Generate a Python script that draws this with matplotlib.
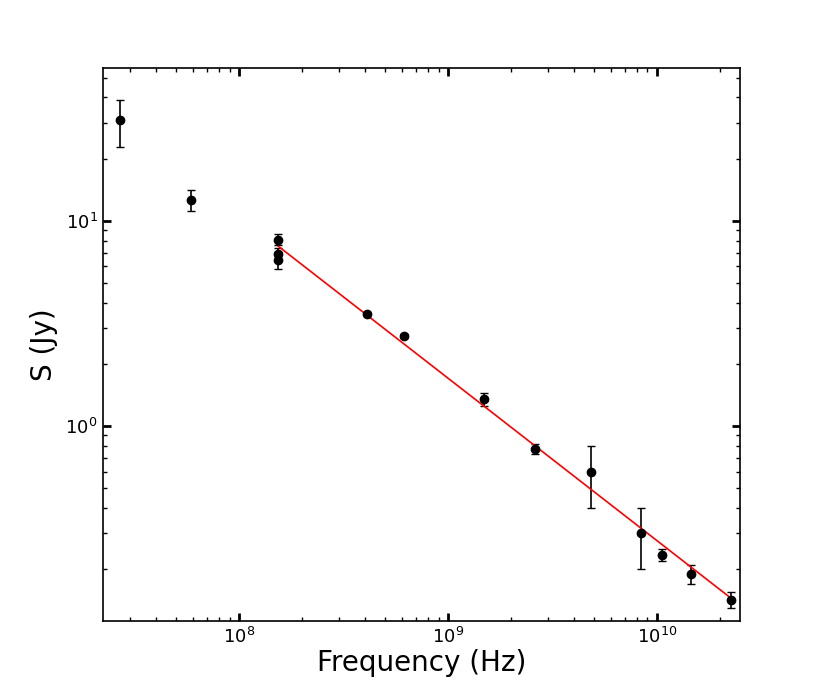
import numpy as np
import matplotlib
matplotlib.use('Agg')
import matplotlib.pyplot as plt

freq = [2.7e7, 5.9e7, 1.54e8, 1.54e8, 1.54e8, 4.08e8, 6.15e8,
        1.49e9, 2.6e9, 4.85e9, 8.4e9, 1.06e10, 1.455e10, 2.26e10]
flux = [31.0, 12.7, 8.1, 6.9, 6.45, 3.52, 2.75,
        1.35, 0.775, 0.6, 0.3, 0.235, 0.19, 0.142]
flux_err = [8.0, 1.5, 0.5, 0.5, 0.6, 0.08, 0.06,
            0.1, 0.045, 0.2, 0.1, 0.015, 0.02, 0.013]

# power law fit S = S_1GHz * (nu / 1GHz)^alpha
alpha = -0.792
s_1ghz = 1.71
fit_range = [1.54e8, 2.26e10]

fig = plt.figure(figsize=(8.21, 6.91), dpi=100)
ax = fig.add_axes([0.1255, 0.1013, 0.776, 0.8003])

ax.errorbar(freq, flux, yerr=flux_err, fmt='o', color='black',
            markersize=6, capsize=3, elinewidth=1.2, capthick=1)

nu = np.logspace(np.log10(fit_range[0]), np.log10(fit_range[1]), 100)
ax.plot(nu, s_1ghz * (nu / 1e9) ** alpha, color='red', linewidth=1.2)

ax.set_xscale('log')
ax.set_yscale('log')
ax.set_xlim(2.23e7, 2.5e10)
ax.set_ylim(0.112, 55.7)

ax.set_xlabel('Frequency (Hz)', fontsize=20, labelpad=2)
ax.set_ylabel('S (Jy)', fontsize=20, labelpad=5)

ax.tick_params(which='both', direction='in', top=True, right=True)
ax.tick_params(which='major', length=6, width=2, labelsize=13, pad=4)
ax.tick_params(which='minor', length=3, width=1)
for s in ax.spines.values():
    s.set_linewidth(1.2)

fig.savefig('out.png', dpi=100)
